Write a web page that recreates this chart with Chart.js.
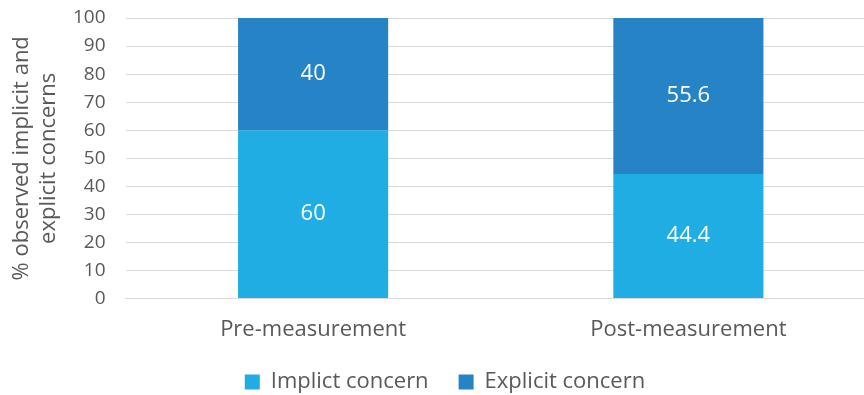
<!DOCTYPE html>
<html>
<head>
<meta charset="utf-8">
<script src="https://cdn.jsdelivr.net/npm/chart.js@4"></script>
<style>
  html, body { margin: 0; padding: 0; background: #fff; overflow: hidden; }
  #wrap { width: 876px; height: 395px; }
</style>
</head>
<body>
<div id="wrap"><canvas id="grafica"></canvas></div>
<script>
// datos
const categorias = ["Pre-measurement", "Post-measurement"];
const implicito = [60, 44.4];
const explicito = [40, 55.6];
const tituloY = ["% observed implicit and", "explicit concerns"];

const gris = "#595959";
const fuente = "'Open Sans', 'Segoe UI', sans-serif";

// etiquetas blancas dentro de cada segmento
const etiquetasBarras = {
  id: "etiquetasBarras",
  afterDatasetsDraw(chart) {
    const ctx = chart.ctx;
    ctx.save();
    ctx.fillStyle = "#ffffff";
    ctx.font = "22px " + fuente;
    ctx.textAlign = "center";
    ctx.textBaseline = "middle";
    chart.data.datasets.forEach((ds, i) => {
      chart.getDatasetMeta(i).data.forEach((bar, j) => {
        const y = (bar.y + bar.base) / 2;
        ctx.fillText(String(ds.data[j]), bar.x, y);
      });
    });
    ctx.restore();
  }
};

// la leyenda ocupa menos alto y se dibuja un poco mas arriba
const ajusteLeyenda = {
  id: "ajusteLeyenda",
  beforeInit(chart) {
    const fitOriginal = chart.legend.fit;
    chart.legend.fit = function () {
      fitOriginal.bind(chart.legend)();
      this.height -= 20;
    };
  },
  afterLayout(chart) {
    chart.legend.top -= 20;
    chart.legend.left += 4;
    chart.legend.right += 4;
  }
};

new Chart(document.getElementById("grafica"), {
  type: "bar",
  data: {
    labels: categorias,
    datasets: [
      { label: "Implict concern", data: implicito, backgroundColor: "#1fade3", categoryPercentage: 0.4, barPercentage: 1 },
      { label: "Explicit concern", data: explicito, backgroundColor: "#2683c6", categoryPercentage: 0.4, barPercentage: 1 }
    ]
  },
  options: {
    responsive: true,
    maintainAspectRatio: false,
    animation: false,
    layout: { padding: { top: 18, left: 6, right: 0, bottom: -8 } },
    scales: {
      x: {
        stacked: true,
        grid: { display: false, drawTicks: false },
        border: { display: true, color: "#d9d9d9", width: 1 },
        ticks: { color: gris, font: { family: fuente, size: 22 }, padding: 18 }
      },
      y: {
        stacked: true,
        min: 0,
        max: 100,
        ticks: { stepSize: 10, autoSkip: false, color: gris, font: { family: fuente, size: 19 }, padding: 20 },
        grid: { color: "#d9d9d9", drawTicks: false },
        border: { display: false },
        title: { display: true, text: tituloY, color: gris, font: { family: fuente, size: 22, lineHeight: 1.2 }, padding: { top: 3, bottom: 0 } },
        afterFit(scale) {
          scale.width = 119.5;
          scale.paddingTop = 11;
          scale.paddingBottom = 11;
        }
      }
    },
    plugins: {
      legend: {
        position: "bottom",
        labels: { color: gris, font: { family: fuente, size: 22 }, boxWidth: 15, boxHeight: 15, padding: 30 }
      },
      tooltip: { enabled: false }
    }
  },
  plugins: [etiquetasBarras, ajusteLeyenda]
});
</script>
</body>
</html>
